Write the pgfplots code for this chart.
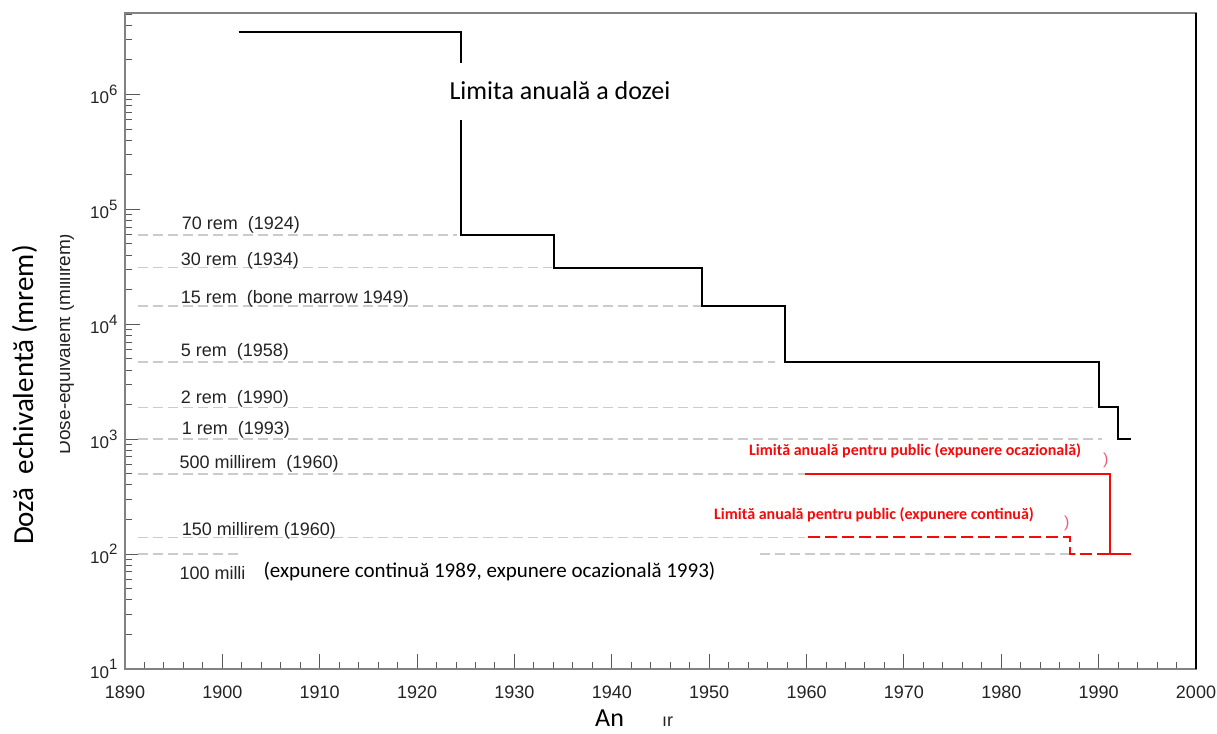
\documentclass[border=0pt]{standalone}
\usepackage{fontspec}
\setmainfont{Liberation Sans}
\newfontfamily\calibri{Carlito}
\usepackage{pgfplots}
\pgfplotsset{compat=1.18}
\definecolor{gline}{RGB}{203,203,203}
\definecolor{axgray}{RGB}{130,130,130}
\definecolor{txt}{RGB}{35,35,35}
\definecolor{pinkred}{RGB}{240,90,120}
\definecolor{myred}{RGB}{245,10,10}
\newcommand{\fs}[1]{\fontsize{#1}{#1}\selectfont}
\newcommand{\pw}[1]{10\raisebox{0.5em}{\fs{15}#1}}

\begin{document}
\begin{tikzpicture}[x=1pt,y=1pt]
\useasboundingbox (0,0) rectangle (1217,733);
\begin{axis}[
  at={(125pt,64pt)}, anchor=south west,
  scale only axis, width=1071pt, height=656pt,
  xmin=1890, xmax=2000, ymode=log, ymin=10, ymax=5.12e6,
  xtick={1890,1900,...,2000},
  xticklabels={1890,1900,1910,1920,1930,1940,1950,1960,1970,1980,1990,2000},
  minor x tick num=4,
  ytick={10,100,1000,10000,100000,1000000},
  yticklabels={\pw{1},\pw{2},\pw{3},\pw{4},\pw{5},\pw{6}},
  minor ytick={20,30,40,50,60,70,80,90,200,300,400,500,600,700,800,900,2000,3000,4000,5000,6000,7000,8000,9000,20000,30000,40000,50000,60000,70000,80000,90000,200000,300000,400000,500000,600000,700000,800000,900000,2000000,3000000,4000000,5000000},
  xticklabel style={font=\fs{18}, text=txt, yshift=-13pt},
  yticklabel style={font=\fs{17}, text=txt, xshift=-4pt},
  xtick pos=bottom, ytick pos=left,
  tick align=inside,
  major tick length=15pt, minor tick length=7pt,
  every tick/.style={black!65, line width=1pt},
  axis line style={axgray, line width=1.5pt},
]
% gray reference lines
\addplot[gline, line width=1.5pt, dash pattern=on 10pt off 5pt] coordinates {(1891.34,59800) (1924.10,59800)};
\addplot[gline, line width=1.5pt, dash pattern=on 10pt off 5pt] coordinates {(1891.34,31100) (1933.83,31100)};
\addplot[gline, line width=1.5pt, dash pattern=on 10pt off 5pt] coordinates {(1891.34,14400) (1949.23,14400)};
\addplot[gline, line width=1.5pt, dash pattern=on 10pt off 5pt] coordinates {(1891.34,4700) (1956.76,4700)};
\addplot[gline, line width=1.5pt, dash pattern=on 10pt off 5pt] coordinates {(1891.34,1890) (1989.84,1890)};
\addplot[gline, line width=1.5pt, dash pattern=on 10pt off 5pt] coordinates {(1891.34,1000) (1990.32,1000)};
\addplot[gline, line width=1.5pt, dash pattern=on 10pt off 5pt] coordinates {(1891.34,500) (1959.84,500)};
\addplot[gline, line width=1.5pt, dash pattern=on 10pt off 5pt] coordinates {(1891.34,140) (1959.84,140)};
\addplot[gline, line width=1.5pt, dash pattern=on 10pt off 5pt] coordinates {(1891.34,100) (1902.02,100)};
\addplot[gline, line width=1.5pt, dash pattern=on 10pt off 5pt] coordinates {(1955.22,100) (1987.68,100)};
% annual dose limit
\addplot[black, line width=2pt, sharp plot] coordinates {
 (1901.68,3.48e6) (1924.51,3.48e6) (1924.51,59800) (1934.03,59800) (1934.03,31100)
 (1949.23,31100) (1949.23,14400) (1957.79,14400) (1957.79,4700) (1990.04,4700)
 (1990.04,1890) (1991.96,1890) (1991.96,1000) (1993.33,1000)};
% public limits
\addplot[myred, line width=2pt, sharp plot, dash pattern=on 12pt off 5pt] coordinates {
 (1960.15,140) (1987.06,140) (1987.06,100) (1993.33,100)};
\addplot[myred, line width=2pt, sharp plot] coordinates {
 (1959.84,500) (1991.17,500) (1991.17,100) (1993.33,100)};
\end{axis}
% right frame line
\draw[black, line width=1.5pt] (1196,64) -- (1196,720);
% gap in the black line behind the title
\fill[white] (454,613) rectangle (469,670);
% labels of reference lines
\begin{scope}[every node/.style={anchor=base west, inner sep=0pt, font=\fs{18}, text=txt}]
\node at (181.7,503) {70 rem\ \ (1924)};
\node at (180.7,467.3) {30 rem\ \ (1934)};
\node at (180.7,429) {15 rem\ \ (bone marrow 1949)};
\node at (180.7,376.3) {5 rem\ \ (1958)};
\node at (180.7,329) {2 rem\ \ (1990)};
\node at (181.7,298.7) {1 rem\ \ (1993)};
\node at (179.3,264.7) {500 millirem\ \ (1960)};
\node at (181.7,197) {150 millirem (1960)};
\node at (179.3,153) {100 milli};
\end{scope}
\node[anchor=base west, inner sep=0pt, font=\calibri\fs{21}] at (263.3,155) {(expunere continuă 1989, expunere ocazională 1993)};
\node[anchor=base west, inner sep=0pt, font=\calibri\fs{26}] at (449.3,633) {Limita anuală a dozei};
\node[anchor=base west, inner sep=0pt, font=\calibri\bfseries\fs{16}, text=myred] at (749,277) {Limită anuală pentru public (expunere ocazională)};
\node[anchor=base west, inner sep=0pt, font=\calibri\bfseries\fs{16}, text=myred] at (714,213) {Limită anuală pentru public (expunere continuă)};
\node[anchor=base west, inner sep=0pt, font=\fs{16}, text=pinkred] at (1103,268) {)};
\node[anchor=base west, inner sep=0pt, font=\fs{16}, text=pinkred] at (1064,205) {)};
% axis titles
\node[rotate=90, anchor=base, inner sep=0pt, font=\fs{19}, text=txt] at (70,389) {Dose-equivalent (millirem)};
\fill[white] (47,200) rectangle (59.5,540);
\node[rotate=90, anchor=base, inner sep=0pt, font=\calibri\fs{29}] at (33,338) {Doză\ \ echivalentă (mrem)};
\node[anchor=base west, inner sep=0pt, font=\calibri\fs{26}] at (595,7) {An};
\node[anchor=base west, inner sep=0pt, font=\fs{18}, text=txt] at (662,7) {ır};
\end{tikzpicture}
\end{document}
